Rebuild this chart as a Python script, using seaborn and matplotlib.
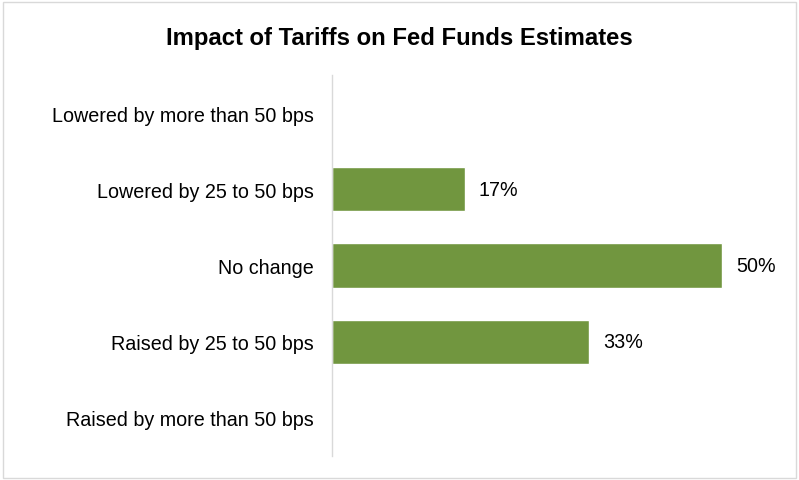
import matplotlib
matplotlib.use("Agg")
import matplotlib.pyplot as plt
import seaborn as sns
import pandas as pd

categories = [
    "Lowered by more than 50 bps",
    "Lowered by 25 to 50 bps",
    "No change",
    "Raised by 25 to 50 bps",
    "Raised by more than 50 bps",
]
shares = [0, 17, 50, 33, 0]
title = "Impact of Tariffs on Fed Funds Estimates"

sns.set_theme(style="white")
plt.rcParams["font.family"] = ["Liberation Sans", "DejaVu Sans"]

df = pd.DataFrame({"category": categories, "share": shares})

fig = plt.figure(figsize=(7.99, 4.81), dpi=100)
fig.patch.set_facecolor("white")
ax = fig.add_axes([332 / 799, 24 / 481, (780 - 332) / 799, (457 - 76) / 481])

sns.barplot(data=df, y="category", x="share", order=categories,
            color="#71963F", saturation=1, width=0.58, orient="h", ax=ax)

ax.set_xlim(0, (780 - 332) / 7.8)
ax.set_ylim(len(categories) - 0.5, -0.5)
ax.set_xlabel("")
ax.set_ylabel("")
ax.set_xticks([])
ax.tick_params(axis="y", length=0, pad=13, labelsize=14.2, labelcolor="#000000")

for side in ("top", "right", "bottom"):
    ax.spines[side].set_visible(False)
ax.spines["left"].set_color("#d9d9d9")
ax.spines["left"].set_linewidth(1.0)

for i, v in enumerate(shares):
    if v > 0:
        ax.annotate(f"{v}%", xy=(v, i), xytext=(10, 0), textcoords="offset points",
                    ha="left", va="center", fontsize=14.2, color="#000000")

fig.text(0.5, 1 - 38 / 481, title, ha="center", va="center",
         fontsize=17.2, fontweight="bold", color="#000000")

# thin light frame around the whole chart
frame = plt.Rectangle((3 / 799, 2 / 481), 793 / 799, 476 / 481,
                      transform=fig.transFigure, fill=False,
                      edgecolor="#d9d9d9", linewidth=1.0)
fig.patches.append(frame)

fig.savefig("out.png", dpi=100, facecolor="white")
